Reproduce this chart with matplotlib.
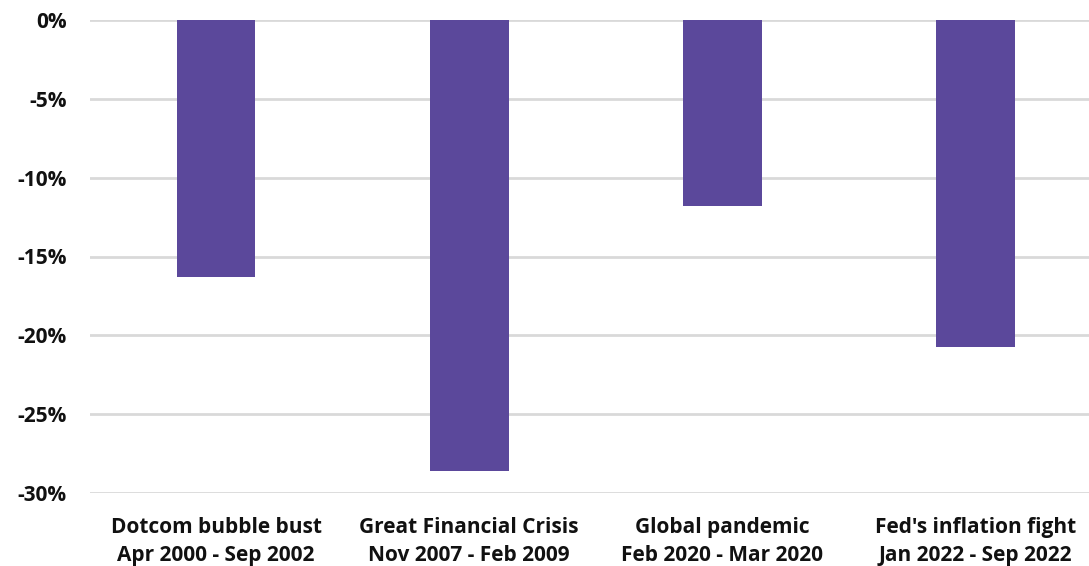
import matplotlib.pyplot as plt
import numpy as np

plt.rcParams['font.family'] = ['Open Sans', 'DejaVu Sans']

categories = ["Dotcom bubble bust\nApr 2000 - Sep 2002",
              "Great Financial Crisis\nNov 2007 - Feb 2009",
              "Global pandemic\nFeb 2020 - Mar 2020",
              "Fed's inflation fight\nJan 2022 - Sep 2022"]
values = [-16.3, -28.6, -11.8, -20.75]
yticks = [0, -5, -10, -15, -20, -25, -30]
ytick_labels = ["0%", "-5%", "-10%", "-15%", "-20%", "-25%", "-30%"]

fig = plt.figure(figsize=(10.89, 5.66), dpi=100)
ax = fig.add_axes([90/1089, 1-493/566, 1-90/1089, (493-20)/566])

x = np.arange(len(categories))
ax.bar(x, values, width=0.312, color="#5b489b", zorder=3)

ax.set_ylim(-30, 0)
ax.set_xlim(-0.498, 3.45)
ax.set_yticks(yticks)
ax.set_yticklabels(ytick_labels, fontsize=15, fontweight="bold", color="#111111")
ax.set_xticks(x)
ax.set_xticklabels(categories, fontsize=15, fontweight="bold", color="#111111", linespacing=1.45)
ax.grid(axis="y", color="#d9d9d9", linewidth=2, zorder=0)
ax.tick_params(length=0, axis="y", pad=17)
ax.tick_params(length=0, axis="x", pad=17)
for s in ax.spines.values():
    s.set_visible(False)

fig.savefig("out.png", dpi=100)
